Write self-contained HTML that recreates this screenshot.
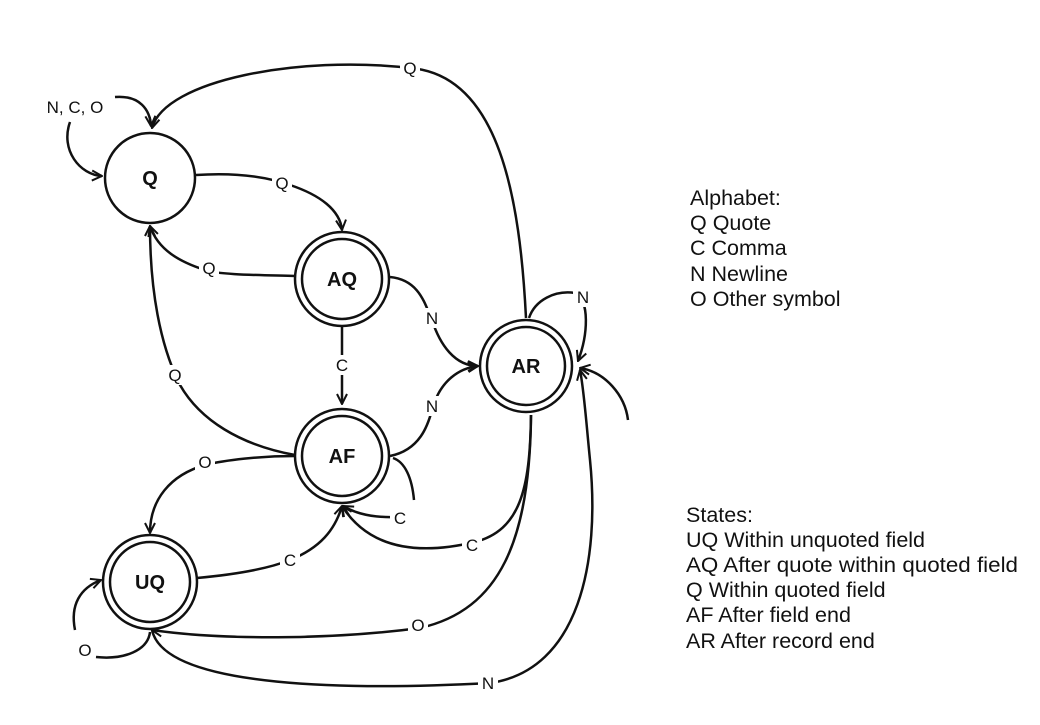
<!DOCTYPE html>
<html><head><meta charset="utf-8"><style>
html,body{margin:0;padding:0;background:#fff;}
svg{display:block;}
text{font-family:"Liberation Sans",Arial,sans-serif;}
</style></head><body>
<svg width="1040" height="725" viewBox="0 0 1040 725" xmlns="http://www.w3.org/2000/svg">
<defs>
<marker id="a" viewBox="0 0 12 12" refX="11" refY="6" markerWidth="12" markerHeight="12" markerUnits="userSpaceOnUse" orient="auto">
<path d="M1,1 L11,6 L1,11" fill="none" stroke="#111" stroke-width="2"/>
</marker>
</defs>
<g fill="none" stroke="#111" stroke-width="2.5">
<path d="M526,318 C520,200 500,75 410,68 C300,55 165,80 152,128" marker-end="url(#a)"/>
<path d="M115,97 C140,95 150,110 151,126" marker-end="url(#a)"/>
<path d="M70,122 C60,150 80,175 102,176" marker-end="url(#a)"/>
<path d="M196,175 C240,172 270,178 290,185 C320,195 340,210 342,230" marker-end="url(#a)"/>
<path d="M295,276 C260,275 220,275 205,270 C180,262 158,250 150,226" marker-end="url(#a)"/>
<path d="M390,277 C420,280 425,305 432,320 C440,345 455,366 478,366" marker-end="url(#a)"/>
<path d="M342,327 L342,404" marker-end="url(#a)"/>
<path d="M295,455 C240,445 200,420 180,385 C160,345 150,290 150,226" marker-end="url(#a)"/>
<path d="M390,456 C420,450 428,425 432,410 C440,380 460,368 478,366" marker-end="url(#a)"/>
<path d="M393,458 C405,462 412,478 414,500"/>
<path d="M395,517 C365,518 350,510 343,506" marker-end="url(#a)"/>
<path d="M295,456 C260,456 225,460 205,465 C170,475 150,500 150,533" marker-end="url(#a)"/>
<path d="M197,578 C230,575 265,570 290,560 C320,548 335,530 342,506" marker-end="url(#a)"/>
<path d="M531,415 C530,490 520,530 475,542 C420,555 370,550 342,506" marker-end="url(#a)"/>
<path d="M531,415 C530,540 500,610 420,628 C330,640 220,640 152,630" marker-end="url(#a)"/>
<path d="M152,630 C165,690 360,690 490,683 C580,670 600,560 590,460 C586,420 584,390 580,370" marker-end="url(#a)"/>
<path d="M529,318 C535,300 555,290 575,293 C590,300 588,335 578,361" marker-end="url(#a)"/>
<path d="M628,420 C625,395 605,372 580,368" marker-end="url(#a)"/>
<path d="M75,630 C70,605 80,588 101,580" marker-end="url(#a)"/>
<path d="M96,657 C125,660 148,650 150,632"/>
</g>
<g fill="#fff" stroke="#111" stroke-width="2.5">
<circle cx="150" cy="178" r="45"/>
<circle cx="342" cy="279" r="47"/><circle cx="342" cy="279" r="40"/>
<circle cx="526" cy="366" r="46"/><circle cx="526" cy="366" r="39"/>
<circle cx="342" cy="456" r="47"/><circle cx="342" cy="456" r="40"/>
<circle cx="150" cy="582" r="47"/><circle cx="150" cy="582" r="40"/>
</g>
<g font-weight="bold" font-size="20" text-anchor="middle" fill="#111">
<text x="150" y="185">Q</text>
<text x="342" y="286">AQ</text>
<text x="526" y="373">AR</text>
<text x="342" y="463">AF</text>
<text x="150" y="589">UQ</text>
</g>
<g font-size="17" text-anchor="middle" fill="#111">
<g fill="#fff"><rect x="400" y="58" width="20" height="20"/><rect x="272" y="173" width="20" height="20"/><rect x="199" y="258" width="20" height="20"/><rect x="422" y="308" width="20" height="20"/><rect x="332" y="355" width="20" height="20"/><rect x="165" y="365" width="20" height="20"/><rect x="422" y="396" width="20" height="20"/><rect x="195" y="452" width="20" height="20"/><rect x="390" y="508" width="20" height="20"/><rect x="462" y="535" width="20" height="20"/><rect x="280" y="550" width="20" height="20"/><rect x="408" y="615" width="20" height="20"/><rect x="478" y="673" width="20" height="20"/><rect x="573" y="287" width="20" height="20"/><rect x="75" y="640" width="20" height="20"/></g>
<text x="410" y="74">Q</text>
<text x="75" y="113">N, C, O</text>
<text x="282" y="189">Q</text>
<text x="209" y="274">Q</text>
<text x="432" y="324">N</text>
<text x="342" y="371">C</text>
<text x="175" y="381">Q</text>
<text x="432" y="412">N</text>
<text x="205" y="468">O</text>
<text x="400" y="524">C</text>
<text x="472" y="551">C</text>
<text x="290" y="566">C</text>
<text x="418" y="631">O</text>
<text x="488" y="689">N</text>
<text x="583" y="303">N</text>
<text x="85" y="656">O</text>
</g>
<g font-size="21.5" fill="#111">
<text x="690" y="205">Alphabet:</text>
<text x="690" y="230">Q Quote</text>
<text x="690" y="255">C Comma</text>
<text x="690" y="281">N Newline</text>
<text x="690" y="306">O Other symbol</text>
<text x="686" y="522">States:</text>
<text x="686" y="547">UQ Within unquoted field</text>
<text x="686" y="572" textLength="332" lengthAdjust="spacingAndGlyphs">AQ After quote within quoted field</text>
<text x="686" y="597">Q Within quoted field</text>
<text x="686" y="622">AF After field end</text>
<text x="686" y="648">AR After record end</text>
</g>
</svg>
</body></html>
